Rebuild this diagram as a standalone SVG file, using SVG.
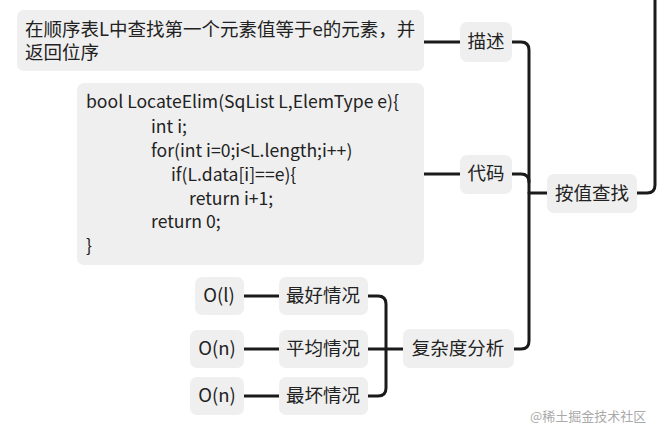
<svg xmlns="http://www.w3.org/2000/svg" width="669" height="439" viewBox="0 0 669 439">
<style>
.b{fill:#efefef}
text{font-family:"Noto Sans CJK SC","Noto Sans",sans-serif;font-size:18.5px;fill:#222}
.k{font-size:17.6px}
.c{fill:none;stroke:#1a1a1a;stroke-width:3;stroke-linecap:round}
</style>
<rect width="669" height="439" fill="#fff"/>
<g id="connectors">
<path class="c" d="M637 193 H647 Q655 193 655 185 V0"/>
<path class="c" d="M512 42 H521 Q529 42 529 50 V341 Q529 349 521 349 H514"/>
<path class="c" d="M512 174 H521 Q529 174 529 182"/>
<path class="c" d="M529 193 H547"/>
<path class="c" d="M368 296 H378 Q386 296 386 304 V388 Q386 396 378 396 H368"/>
<path class="c" d="M368 349 H403"/>
<path class="c" d="M424 42 H460"/>
<path class="c" d="M424 174 H460"/>
<path class="c" d="M244 296 H279"/>
<path class="c" d="M244 349 H279"/>
<path class="c" d="M244 396 H279"/>
</g>
<g id="desc"><rect class="b" x="17" y="10" width="407" height="61" rx="7"/>
<text x="25" y="36">在顺序表L中查找第一个元素值等于e的元素，并</text>
<text x="25" y="59">返回位序</text></g>
<g id="code" class="k"><rect class="b" x="77" y="83" width="347" height="182" rx="7"/>
<text class="k" x="86" y="108">bool LocateElim(SqList L,ElemType e){</text>
<text class="k" x="151" y="133">int i;</text>
<text class="k" x="151" y="157">for(int i=0;i&lt;L.length;i++)</text>
<text class="k" x="171" y="181">if(L.data[i]==e){</text>
<text class="k" x="189" y="205">return i+1;</text>
<text class="k" x="151" y="228">return 0;</text>
<text class="k" x="86" y="252">}</text></g>
<g id="n-miaoshu"><rect class="b" x="460" y="22" width="52" height="40" rx="7"/><text x="486" y="48" text-anchor="middle">描述</text></g>
<g id="n-daima"><rect class="b" x="460" y="155" width="52" height="39" rx="7"/><text x="486" y="180" text-anchor="middle">代码</text></g>
<g id="n-anzhi"><rect class="b" x="547" y="174" width="90" height="39" rx="7"/><text x="592" y="200" text-anchor="middle">按值查找</text></g>
<g id="n-fuza"><rect class="b" x="403" y="329" width="111" height="39" rx="7"/><text x="458" y="355" text-anchor="middle">复杂度分析</text></g>
<g id="n-best"><rect class="b" x="279" y="277" width="89" height="38" rx="7"/><text x="323" y="302" text-anchor="middle">最好情况</text></g>
<g id="n-avg"><rect class="b" x="279" y="330" width="89" height="38" rx="7"/><text x="323" y="355" text-anchor="middle">平均情况</text></g>
<g id="n-worst"><rect class="b" x="279" y="377" width="89" height="38" rx="7"/><text x="323" y="402" text-anchor="middle">最坏情况</text></g>
<g id="o1"><rect class="b" x="195" y="277" width="49" height="38" rx="7"/><text x="219" y="302" text-anchor="middle">O(l)</text></g>
<g id="on1"><rect class="b" x="190" y="330" width="54" height="38" rx="7"/><text x="217" y="355" text-anchor="middle">O(n)</text></g>
<g id="on2"><rect class="b" x="190" y="377" width="54" height="38" rx="7"/><text x="217" y="402" text-anchor="middle">O(n)</text></g>
<text x="530" y="421" style="font-size:13px;fill:#aaa">@稀土掘金技术社区</text>
</svg>
